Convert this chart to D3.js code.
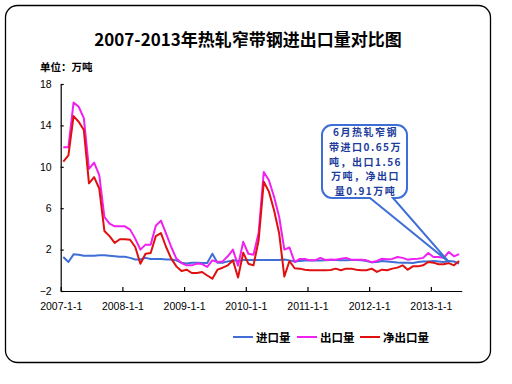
<!DOCTYPE html>
<html><head><meta charset="utf-8">
<script src="https://cdn.jsdelivr.net/npm/d3@7"></script>
<style>
html,body{margin:0;padding:0;background:#fff;}
svg{display:block;}
</style></head>
<body>
<svg id="c" width="512" height="384"></svg>
<script>
// ---- data ----
const startYear = 2007;
const monthCount = 78; // 2007-01 .. 2013-06
const months = Array.from({length: monthCount}, (_, i) => `${startYear + Math.floor(i / 12)}-${(i % 12) + 1}`);
const yearTickLabels = ["2007-1-1","2008-1-1","2009-1-1","2010-1-1","2011-1-1","2012-1-1","2013-1-1"];
const yTicks = [-2, 2, 6, 10, 14, 18];
const seriesNames = ["进口量", "出口量", "净出口量"];

const importVals = [1.28,0.8,1.54,1.5,1.4,1.4,1.4,1.45,1.45,1.4,1.35,1.3,
  1.3,1.2,1.05,1.05,1.2,1.1,1.1,1.1,1.05,1.05,0.96,0.73,
  0.65,0.73,0.73,0.7,0.7,1.6,0.73,0.73,0.86,0.96,0.9,1.0,
  1.0,1.0,1.0,1.0,1.0,1.0,1.0,1.05,0.96,0.86,0.9,0.95,
  0.95,0.95,0.95,0.98,1.0,1.0,0.98,0.98,1.0,1.0,0.96,0.9,
  0.78,0.8,0.9,0.85,0.8,0.75,0.72,0.72,0.7,0.8,0.85,0.85,
  0.9,0.85,0.8,0.9,0.85,0.65];
const exportVals = [11.9,11.9,16.2,15.8,14.7,9.8,10.4,9.2,5.15,4.5,4.25,4.25,
  4.25,3.93,3.06,2.0,2.48,2.48,4.3,4.8,3.55,2.25,1.13,0.7,
  0.48,0.48,0.65,0.6,0.32,0.96,0.8,0.86,1.35,2.0,0.45,2.75,
  1.6,1.5,3.6,9.5,8.7,7.1,5.15,2.0,2.2,0.8,1.1,1.1,
  0.96,0.96,1.2,1.0,1.05,1.03,1.12,1.2,1.03,1.03,1.03,0.96,
  0.77,0.9,1.12,1.06,1.1,1.28,1.2,1.03,1.1,1.12,1.2,1.67,
  1.28,1.28,1.2,1.77,1.35,1.56];
const netVals = [10.5,11.1,14.9,14.35,13.55,8.4,9.0,7.9,3.8,3.3,2.65,3.0,
  3.0,2.95,2.25,0.64,1.6,1.67,3.3,3.6,2.25,1.13,0.38,-0.07,
  0.06,-0.26,-0.26,-0.16,-0.5,-0.81,0.06,0.25,0.48,0.96,-0.7,1.7,
  0.64,0.48,2.9,8.55,7.6,5.8,3.55,-0.6,0.9,0.2,0.16,0.06,
  0.0,0.0,0.0,0.0,0.03,0.16,0.0,0.16,0.16,0.06,0.0,0.0,
  0.16,-0.16,0.06,0.0,0.16,0.26,0.48,0.06,0.38,0.38,0.48,0.8,
  0.74,0.58,0.58,0.7,0.48,0.91];
const calloutLines = ["6月热轧窄钢","带进口0.65万","吨，出口1.56","万吨，净出口","量0.91万吨"];

// ---- drawing ----
const colors = ["#3f6fd6", "#f020f0", "#e01010"];
const svg = d3.select("#c");
const cjk = "'Noto Sans CJK SC', 'Noto Sans', sans-serif";
const num = "'Liberation Sans', Arial, sans-serif";

// outer rounded border
svg.append("rect").attr("x", 5.5).attr("y", 5.5).attr("width", 485).attr("height", 357)
  .attr("rx", 12).attr("fill", "#fff").attr("stroke", "#000").attr("stroke-width", 1.3);

svg.append("text").attr("x", 248).attr("y", 46).attr("text-anchor", "middle")
  .attr("font-family", cjk).attr("font-weight", "bold").attr("font-size", 17)
  .text("2007-2013年热轧窄带钢进出口量对比图");
svg.append("text").attr("x", 40).attr("y", 71)
  .attr("font-family", cjk).attr("font-weight", "bold").attr("font-size", 10.5)
  .text("单位：万吨");

const x = d3.scaleLinear().domain([0, months.length]).range([60.7, 461.7]);
const y = d3.scaleLinear().domain([-2, 18]).range([291, 84]);

const yAxis = svg.append("g").attr("transform", "translate(60.7,0)")
  .call(d3.axisLeft(y).tickValues(yTicks).tickSizeInner(-3).tickSizeOuter(0).tickPadding(9));
const xAxis = svg.append("g").attr("transform", "translate(0,291)")
  .call(d3.axisBottom(x).tickValues(yearTickLabels.map((_, k) => k * 12))
    .tickFormat((d, k) => yearTickLabels[k]).tickSizeInner(-4).tickSizeOuter(0).tickPadding(12));
[yAxis, xAxis].forEach(a => {
  a.selectAll("path,line").attr("stroke", "#000").attr("stroke-width", 1.2);
  a.selectAll("text").attr("font-family", num).attr("font-size", 10.5).attr("fill", "#000");
});

const series = [importVals, exportVals, netVals];
const line = d3.line().x((d, i) => x(i + 0.5)).y(d => y(d));
series.forEach((vals, k) => {
  svg.append("path").datum(vals).attr("d", line).attr("fill", "none")
    .attr("stroke", colors[k]).attr("stroke-width", 2).attr("stroke-linejoin", "round");
});

// callout
const bx0 = 322, by0 = 125, bx1 = 407, by1 = 198, r = 10;
const tip = [x(75.5), y(0.8)];
const ta = 370, tb = 393;
const p = d3.path();
p.moveTo(bx0 + r, by0);
p.lineTo(bx1 - r, by0); p.arcTo(bx1, by0, bx1, by0 + r, r);
p.lineTo(bx1, by1 - r); p.arcTo(bx1, by1, bx1 - r, by1, r);
p.lineTo(tb, by1); p.lineTo(tip[0], tip[1]); p.lineTo(ta, by1);
p.lineTo(bx0 + r, by1); p.arcTo(bx0, by1, bx0, by1 - r, r);
p.lineTo(bx0, by0 + r); p.arcTo(bx0, by0, bx0 + r, by0, r);
p.closePath();
svg.append("path").attr("d", p.toString()).attr("fill", "#fff").attr("stroke", "#3f6fd6").attr("stroke-width", 2);
calloutLines.forEach((t, k) => {
  svg.append("text").attr("x", 365.5).attr("y", 136.2 + k * 14.65).attr("text-anchor", "middle")
    .attr("font-family", cjk).attr("font-weight", "bold").attr("font-size", 10)
    .attr("letter-spacing", 1.5).attr("fill", "#1c3c9c").text(t);
});

// legend
const legendX = [233, 297, 360];
seriesNames.forEach((n, k) => {
  svg.append("line").attr("x1", legendX[k]).attr("x2", legendX[k] + 20).attr("y1", 337).attr("y2", 337)
    .attr("stroke", colors[k]).attr("stroke-width", 2);
  svg.append("text").attr("x", legendX[k] + 23).attr("y", 341.5)
    .attr("font-family", cjk).attr("font-weight", "bold").attr("font-size", 11.5).text(n);
});
</script>
</body></html>
